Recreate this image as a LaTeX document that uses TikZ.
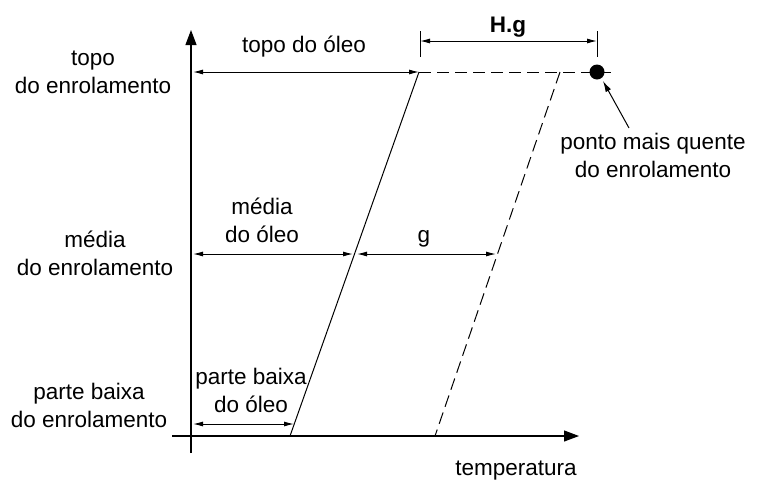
\documentclass[tikz,border=0pt]{standalone}
\usepackage{fontspec}
\setmainfont{Liberation Sans}
\usetikzlibrary{arrows.meta}
\begin{document}
\begin{tikzpicture}[x=1pt,y=-1pt,
  lbl/.style={font=\fontsize{22.5}{28}\selectfont, inner sep=0pt, anchor=base, align=center},
  thin/.style={line width=1pt},
  dim/.style={thin, {Latex[length=10pt,width=5pt]}-{Latex[length=10pt,width=5pt]}},
  dsh/.style={thin, dash pattern=on 12pt off 6pt},
  axis/.style={line width=1.1pt, -{Triangle[length=15pt,width=11pt]}}]
\useasboundingbox (0,0) rectangle (757,480);
% axes
\coordinate (yb) at (191,453);
\coordinate (yt) at (191,30);
\coordinate (xl) at (172,436);
\coordinate (xr) at (579,436);
\draw[axis] (yb) -- (yt);
\draw[axis] (xl) -- (xr);
% key points
\coordinate (oT) at (419,72);
\coordinate (oB) at (290,436);
\coordinate (oM) at (355,254);
\coordinate (wT) at (560,72);
\coordinate (wB) at (435,436);
\coordinate (wM) at (496,254);
\coordinate (dT) at (612,72);
\coordinate (aT) at (193,72);
\coordinate (aM) at (193,254);
\coordinate (aB) at (193,424);
\coordinate (oBa) at (294,424);
\node[circle, fill=black, minimum size=15pt, inner sep=0pt] (dot) at (597,72) {};
% oil line and winding line
\draw[thin] (oT) -- (oB);
\draw[dsh] (wT) -- (wB);
\draw[dsh] (oT) -- (dT);
% dimension arrows
\draw[dim] (aT) -- (oT);
\draw[dim] (aM) -- ([xshift=-2pt]oM);
\draw[dim] ([xshift=2pt]oM) -- (wM);
\draw[dim] (aB) -- (oBa);
% H.g dimension
\coordinate (h1t) at (420,31);
\coordinate (h1b) at (420,57);
\coordinate (h2t) at (597,31);
\coordinate (h2b) at (597,57);
\coordinate (h1) at (420,41);
\coordinate (h2) at (597,41);
\draw[thin] (h1t) -- (h1b);
\draw[thin] (h2t) -- (h2b);
\draw[dim] (h1) -- (h2);
% pointer
\coordinate (pt) at (629,128);
\draw[thin, -{Latex[length=11pt,width=6pt]}] (pt) -- (603,81);
% labels (base = baseline of last line)
\node[lbl] (l1) at (93,93) {topo\\do enrolamento};
\node[lbl] (l2) at (95,275) {média\\do enrolamento};
\node[lbl] (l3) at (89,427) {parte baixa\\do enrolamento};
\node[lbl] (t1) at (304,52) {topo do óleo};
\node[lbl] (t2) at (262,242) {média\\do óleo};
\node[lbl] (t3) at (251,412) {parte baixa\\do óleo};
\node[lbl] (g) at (424,242) {g};
\node[lbl, font=\fontsize{22.5}{28}\selectfont\bfseries] (hg) at (508,32) {H.g};
\node[lbl] (pq) at (653,177) {ponto mais quente\\do enrolamento};
\node[lbl] (tp) at (516,475) {temperatura};
\end{tikzpicture}
\end{document}
